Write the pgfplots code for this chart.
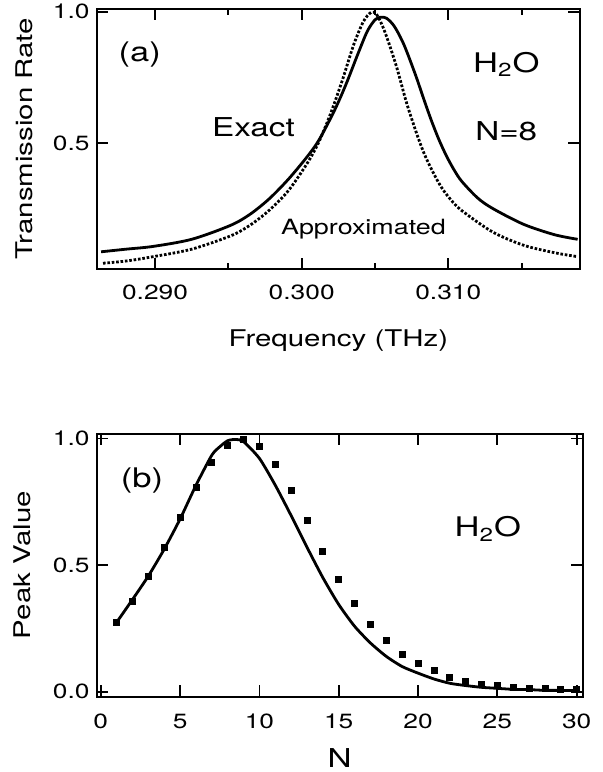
\documentclass[border=0pt]{standalone}
\usepackage{fontspec}
\setmainfont{TeX Gyre Heros}[FakeStretch=1.28]
\usepackage{pgfplots}
\pgfplotsset{compat=1.18}

% transmission spectra, N=8 (panel a)
\pgfplotstableread{
f        T
0.28632  0.0875
0.28803  0.0975
0.28987  0.108
0.29250  0.135
0.29513  0.1875
0.29645  0.229
0.29776  0.2875
0.29908  0.3625
0.30039  0.45
0.30118  0.5125
0.30224  0.625
0.30303  0.725
0.30382  0.8375
0.30447  0.925
0.30500  0.969
0.30539  0.979
0.30579  0.975
0.30632  0.944
0.30697  0.875
0.30776  0.760
0.30830  0.672
0.30882  0.590
0.30935  0.515
0.30987  0.452
0.31040  0.398
0.31092  0.355
0.31200  0.292
0.31303  0.252
0.31513  0.192
0.31724  0.1525
0.31882  0.135
}\exacttab
\pgfplotstableread{
f        T
0.28645  0.044
0.28803  0.0525
0.28987  0.069
0.29250  0.0975
0.29513  0.1475
0.29645  0.1875
0.29776  0.244
0.29908  0.319
0.30039  0.425
0.30118  0.506
0.30197  0.6125
0.30276  0.7375
0.30355  0.875
0.30421  0.9625
0.30474  0.9975
0.30513  0.9875
0.30566  0.925
0.30645  0.794
0.30724  0.6375
0.30829  0.469
0.30934  0.350
0.31010  0.290
0.31092  0.244
0.31303  0.1625
0.31513  0.1125
0.31724  0.084
0.31882  0.069
}\approxtab
% peak value versus N (panel b)
\pgfplotstableread{
N   P
1   0.274
2   0.364
3   0.457
4   0.563
5   0.682
6   0.815
7   0.934
7.5 0.967
8   0.991
8.5 0.996
9   0.987
10  0.921
11  0.815
12  0.695
13  0.570
14  0.450
15  0.344
16  0.258
17  0.192
18  0.139
19  0.099
20  0.073
21  0.050
22  0.033
23  0.024
24  0.017
25  0.013
26  0.009
27  0.008
28  0.005
29  0.005
30  0.004
}\peakcurve
\pgfplotstableread{
N   P
1   0.274
2   0.355
3   0.454
4   0.570
5   0.689
6   0.805
7   0.906
8   0.974
9   0.996
10  0.970
11  0.898
12  0.795
13  0.675
14  0.554
15  0.444
16  0.347
17  0.265
18  0.201
19  0.148
20  0.110
21  0.082
22  0.058
23  0.042
24  0.030
25  0.023
26  0.016
27  0.012
28  0.011
29  0.008
30  0.007
}\peakdots

\pgfplotsset{
  panel/.style={
    scale only axis,
    anchor=south west,
    axis line style={line width=1pt},
    tick align=inside,
    major tick length=5.8pt,
    minor tick length=3.3pt,
    every tick/.style={black, line width=0.9pt},
    tick label style={font=\fontsize{10.3}{12}\selectfont},
    /pgf/number format/assume math mode=true,
    /pgf/number format/.cd, fixed, fixed zerofill,
  },
}

\begin{document}
\begin{tikzpicture}
\useasboundingbox (0pt,0pt) rectangle (301.5pt,386pt);

\begin{axis}[panel,
  at={(48.35pt,251.35pt)},
  width=241.65pt, height=130.4pt,
  xmin=0.28602, xmax=0.31898,
  ymin=0.021, ymax=1.012,
  scaled x ticks=false,
  xtick={0.290,0.300,0.310},
  minor xtick={0.295,0.305,0.315},
  ytick={0.5,1.0},
  xticklabel style={/pgf/number format/precision=3, yshift=-4.5pt},
  yticklabel style={/pgf/number format/precision=1},
  xlabel={Frequency (THz)},
  ylabel={Transmission Rate},
  xlabel style={font=\fontsize{11.5}{13}\selectfont, at={(axis description cs:0.5,-0.272)}, anchor=center},
  ylabel style={font=\fontsize{11.5}{13}\selectfont, at={(axis description cs:-0.150,0.5)}, anchor=center},
]
\addplot[black, line width=1.4pt, smooth, tension=0.5] table[x=f, y=T] {\exacttab};
\addplot[black, line width=1.4pt, dash pattern=on 1.3pt off 0.9pt, smooth, tension=0.5] table[x=f, y=T] {\approxtab};
\node[font=\fontsize{13.5}{15}\selectfont] at (axis cs:0.28895,0.8375) {(a)};
\node[font=\fontsize{13}{15}\selectfont] at (axis cs:0.29671,0.5625) {Exact};
\node[font=\fontsize{10.5}{12}\selectfont] at (axis cs:0.30421,0.175) {Approximated};
\node[font=\fontsize{13.5}{15}\selectfont] at (axis cs:0.31395,0.80) {H\textsubscript{2}O};
\node[font=\fontsize{13}{15}\selectfont] at (axis cs:0.31395,0.544) {N=8};
\end{axis}

\begin{axis}[panel,
  at={(48.35pt,37.65pt)},
  width=243pt, height=131.55pt,
  xmin=-0.26, xmax=30.38,
  ymin=-0.02, ymax=1.019,
  xtick={0,5,...,30},
  ytick={0,0.5,1.0},
  xticklabel style={/pgf/number format/precision=0, /pgf/number format/fixed zerofill=false, yshift=-5pt},
  yticklabel style={/pgf/number format/precision=1},
  xlabel={N},
  ylabel={Peak Value},
  xlabel style={font=\fontsize{13}{15}\selectfont, inner sep=1pt, at={(axis description cs:0.5,-0.232)}, anchor=center},
  ylabel style={font=\fontsize{11.5}{13}\selectfont, at={(axis description cs:-0.153,0.5)}, anchor=center},
]
\addplot[black, line width=1.4pt, smooth, tension=0.4] table[x=N, y=P] {\peakcurve};
\addplot[only marks, mark=square*, mark size=1.5pt, black] table[x=N, y=P] {\peakdots};
\node[font=\fontsize{13.5}{15}\selectfont] at (axis cs:2.6,0.834) {(b)};
\node[font=\fontsize{13.5}{15}\selectfont] at (axis cs:24.4,0.642) {H\textsubscript{2}O};
\end{axis}
\end{tikzpicture}
\end{document}
